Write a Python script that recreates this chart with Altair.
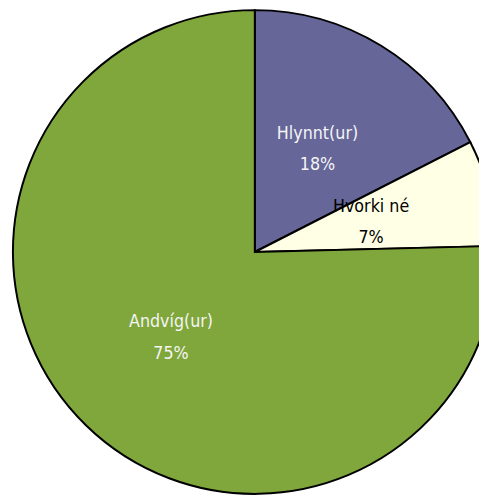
import altair as alt
import pandas as pd

categories = ["Hlynnt(ur)", "Hvorki né", "Andvíg(ur)"]
values = [17.5, 7.1, 75.4]
pct_labels = ["18%", "7%", "75%"]
colors = ["#666699", "#FFFFE5", "#7FA73B"]
text_colors = ["#F5F5F5", "#000000", "#F5F5F5"]

df = pd.DataFrame({
    "cat": categories,
    "val": values,
    "pct": pct_labels,
    "ord": list(range(len(categories))),
    "tcol": text_colors,
})

CX, CY, R = 251, 244, 246
FONT = "DejaVu Sans Condensed"

base = alt.Chart(df).encode(
    theta=alt.Theta("val:Q", stack=True),
    order=alt.Order("ord:Q"),
)

pie = base.mark_arc(outerRadius=R, stroke="black", strokeWidth=2).encode(
    color=alt.Color("cat:N", scale=alt.Scale(domain=categories, range=colors), legend=None),
    x=alt.value(CX), y=alt.value(CY),
)

name_txt = base.mark_text(radius=122, dy=-16, font=FONT, fontSize=18).encode(
    text="cat:N",
    color=alt.Color("tcol:N", scale=None),
    x=alt.value(CX), y=alt.value(CY),
)
pct_txt = base.mark_text(radius=122, dy=16, font=FONT, fontSize=18).encode(
    text="pct:N",
    color=alt.Color("tcol:N", scale=None),
    x=alt.value(CX), y=alt.value(CY),
)

chart = alt.layer(pie, name_txt, pct_txt).properties(
    width=479, height=488, padding=0,
    autosize=alt.AutoSizeParams(type="none"),
).configure_view(stroke=None)

chart.save("out.html", embed_options={"renderer": "svg", "actions": False})
